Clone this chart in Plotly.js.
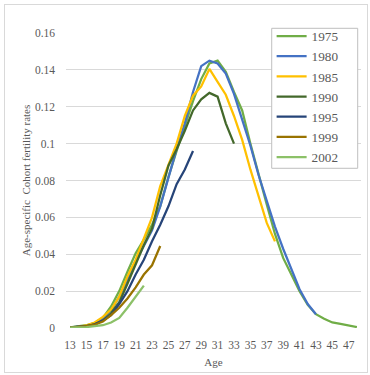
<!DOCTYPE html>
<html>
<head>
<meta charset="utf-8">
<script src="https://cdn.plot.ly/plotly-3.0.1.min.js"></script>
<style>
  html, body { margin: 0; padding: 0; background: #ffffff; }
  #wrap { position: relative; width: 370px; height: 375px; }
  #chart { width: 370px; height: 375px; }
  #frame { position: absolute; left: 4px; top: 4px; width: 362px; height: 367px;
           border: 1px solid #d9d9d9; pointer-events: none; }
</style>
</head>
<body>
<div id="wrap">
  <div id="chart"></div>
  <div id="frame"></div>
</div>
<script>
// Age of mother (single years)
const ages = [13, 14, 15, 16, 17, 18, 19, 20, 21, 22, 23, 24, 25, 26, 27, 28, 29, 30,
              31, 32, 33, 34, 35, 36, 37, 38, 39, 40, 41, 42, 43, 44, 45, 46, 47, 48];

// Age-specific fertility rates by birth cohort (each series starts at age 13)
const cohort1975 = [0.0003, 0.0007, 0.0015, 0.0028, 0.0055, 0.0117, 0.0200, 0.0305, 0.0405, 0.0480,
                    0.0560, 0.0660, 0.0820, 0.0960, 0.1100, 0.1230, 0.1350, 0.1435, 0.1450, 0.1390,
                    0.1280, 0.1180, 0.1000, 0.0830, 0.0670, 0.0510, 0.0380, 0.0290, 0.0200, 0.0125,
                    0.0075, 0.0050, 0.0030, 0.0022, 0.0014, 0.0005];
const cohort1980 = [0.0003, 0.0006, 0.0012, 0.0025, 0.0055, 0.0095, 0.0170, 0.0260, 0.0360, 0.0445,
                    0.0530, 0.0660, 0.0820, 0.0970, 0.1110, 0.1280, 0.1420, 0.1450, 0.1435, 0.1380,
                    0.1270, 0.1130, 0.0990, 0.0830, 0.0690, 0.0550, 0.0430, 0.0320, 0.0210, 0.0130,
                    0.0075];
const cohort1985 = [0.0003, 0.0006, 0.0015, 0.0030, 0.0060, 0.0100, 0.0170, 0.0280, 0.0370, 0.0490,
                    0.0600, 0.0770, 0.0890, 0.1000, 0.1150, 0.1260, 0.1310, 0.1405, 0.1335, 0.1265,
                    0.1150, 0.1020, 0.0860, 0.0710, 0.0570, 0.0470];
const cohort1990 = [0.0003, 0.0005, 0.0010, 0.0020, 0.0040, 0.0080, 0.0140, 0.0240, 0.0340, 0.0450,
                    0.0540, 0.0720, 0.0880, 0.0970, 0.1070, 0.1180, 0.1240, 0.1275, 0.1255, 0.1110,
                    0.1000];
const cohort1995 = [0.0002, 0.0004, 0.0010, 0.0020, 0.0040, 0.0070, 0.0130, 0.0200, 0.0290, 0.0370,
                    0.0470, 0.0560, 0.0660, 0.0780, 0.0860, 0.0960];
const cohort1999 = [0.0002, 0.0004, 0.0010, 0.0018, 0.0035, 0.0070, 0.0110, 0.0160, 0.0220, 0.0290,
                    0.0340, 0.0445];
const cohort2002 = [0.0002, 0.0003, 0.0005, 0.0010, 0.0015, 0.0030, 0.0055, 0.0110, 0.0170, 0.0230];

const seriesNames = ['1975', '1980', '1985', '1990', '1995', '1999', '2002'];
const seriesValues = [cohort1975, cohort1980, cohort1985, cohort1990, cohort1995, cohort1999, cohort2002];
const seriesColors = ['#70ad47', '#4472c4', '#ffc000', '#43682b', '#264478', '#997300', '#8cc168'];

// Axis ticks
const xTickVals = [13, 15, 17, 19, 21, 23, 25, 27, 29, 31, 33, 35, 37, 39, 41, 43, 45, 47];
const yTickVals = [0, 0.02, 0.04, 0.06, 0.08, 0.1, 0.12, 0.14, 0.16];
const yTickText = ['0', '0.02', '0.04', '0.06', '0.08', '0.1', '0.12', '0.14', '0.16'];

const serif = 'Liberation Serif, Times New Roman, serif';
const textGray = '#595959';

const traces = seriesNames.map((name, i) => ({
  type: 'scatter',
  mode: 'lines',
  name: name,
  x: ages.slice(0, seriesValues[i].length),
  y: seriesValues[i],
  line: { color: seriesColors[i], width: 2.25 },
  hoverinfo: 'x+y+name'
}));

const layout = {
  width: 370,
  height: 375,
  margin: { l: 66, r: 9, t: 33, b: 47 },
  paper_bgcolor: '#ffffff',
  plot_bgcolor: '#ffffff',
  font: { family: serif, color: textGray, size: 11.5 },
  showlegend: true,
  legend: {
    x: 0.697, y: 1.0407, xanchor: 'left', yanchor: 'top',
    bgcolor: 'rgba(255,255,255,0)', borderwidth: 0,
    font: { family: serif, size: 13.2, color: textGray }
  },
  // Framed white panel behind the legend entries
  shapes: [{
    type: 'rect', xref: 'paper', yref: 'paper', layer: 'above',
    x0: 0.6973, x1: 0.9888, y0: 0.5414, y1: 1.0159,
    fillcolor: '#ffffff', line: { color: '#bfbfbf', width: 1 }
  }],
  xaxis: {
    range: [12.5, 48.5],
    tickmode: 'array',
    tickvals: xTickVals,
    showgrid: false,
    zeroline: false,
    showline: false,
    ticks: '',
    ticklabelstandoff: 8,
    tickfont: { family: serif, size: 11.5, color: textGray },
    title: { text: 'Age', font: { family: serif, size: 11, color: textGray }, standoff: 8 }
  },
  yaxis: {
    range: [0, 0.16],
    tickmode: 'array',
    tickvals: yTickVals,
    ticktext: yTickText,
    showgrid: true,
    gridcolor: '#d9d9d9',
    gridwidth: 1,
    zeroline: false,
    showline: false,
    ticks: '',
    ticklabelstandoff: 10,
    tickfont: { family: serif, size: 11.5, color: textGray },
    title: { text: 'Age-specific\u00a0 Cohort fertility rates',
             font: { family: serif, size: 11, color: textGray }, standoff: 2 }
  }
};

Plotly.newPlot('chart', traces, layout, { displayModeBar: false, staticPlot: true });
</script>
</body>
</html>
